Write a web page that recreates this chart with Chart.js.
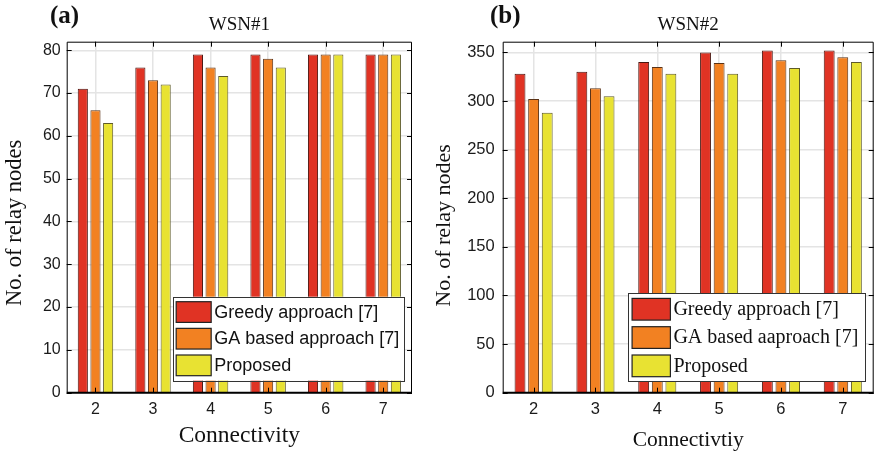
<!DOCTYPE html>
<html><head><meta charset="utf-8">
<script src="https://cdn.jsdelivr.net/npm/chart.js@4.4.1/dist/chart.umd.min.js"></script>
<style>
html,body{margin:0;padding:0;background:#fff;}
#wrap{position:relative;width:876px;height:456px;overflow:hidden;background:#fff;}
.c{position:absolute;top:0;height:456px;}
</style></head><body>
<div id="wrap">
<div class="c" style="left:0;width:436px"><canvas id="c1"></canvas></div>
<div class="c" style="left:430px;width:446px"><canvas id="c2"></canvas></div>
</div>
<script>
// ---- data ----
const categories = ['2','3','4','5','6','7'];
const seriesNames1 = ['Greedy approach [7]','GA based approach [7]','Proposed'];
const seriesNames2 = ['Greedy approach [7]','GA based aaproach [7]','Proposed'];
const wsn1Greedy   = [71,76,79,79,79,79];
const wsn1GA       = [66,73,76,78,79,79];
const wsn1Proposed = [63,72,74,76,79,79];
const wsn2Greedy   = [328,330,340,350,352,352];
const wsn2GA       = [302,313,335,339,342,345];
const wsn2Proposed = [288,305,328,328,334,340];
const wsn1YTicks = [0,10,20,30,40,50,60,70,80];
const wsn2YTicks = [0,50,100,150,200,250,300,350];

// ---- styles ----
const fills   = ['#e03324','#f28122','#e8e232'];
const borders = ['#4a1610','#5a3216','#5e5a28'];

const frameTicks = {
  id:'frameTicks',
  afterDatasetsDraw(chart){
    const {ctx, chartArea:ca, scales:{x,y}} = chart;
    ctx.save();
    ctx.strokeStyle = '#000';
    ctx.lineWidth = 1;
    ctx.beginPath();
    x.ticks.forEach((t,i)=>{
      const px = Math.round(x.getPixelForTick(i))+0.5;
      ctx.moveTo(px, ca.top); ctx.lineTo(px, ca.top+5);
      ctx.moveTo(px, ca.bottom); ctx.lineTo(px, ca.bottom-5);
    });
    y.ticks.forEach((t,i)=>{
      const py = Math.round(y.getPixelForTick(i))+0.5;
      ctx.moveTo(ca.left, py); ctx.lineTo(ca.left+5, py);
      ctx.moveTo(ca.right, py); ctx.lineTo(ca.right-5, py);
    });
    ctx.stroke();
    ctx.beginPath();
    ctx.moveTo(ca.left+0.5, ca.bottom); ctx.lineTo(ca.left+0.5, ca.top+0.5);
    ctx.lineTo(ca.right-0.5, ca.top+0.5); ctx.lineTo(ca.right-0.5, ca.bottom);
    ctx.stroke();
    ctx.lineWidth = 2;
    ctx.beginPath();
    ctx.moveTo(ca.left, ca.bottom); ctx.lineTo(ca.right, ca.bottom);
    ctx.stroke();
    ctx.restore();
  }
};

const insideLegend = {
  id:'insideLegend',
  afterDatasetsDraw(chart, args, o){
    const {ctx, chartArea:ca} = chart;
    const ds = chart.data.datasets;
    ctx.save();
    ctx.font = o.font;
    const maxW = Math.max(...ds.map(d=>ctx.measureText(d.label).width));
    const w = o.padX + o.swW + o.gap + maxW + o.padR;
    const h = o.padY*2 + ds.length*o.pitch - (o.pitch - o.swH);
    const bx = ca.right - o.right - w, by = ca.bottom - o.bottom - h;
    ctx.fillStyle = '#fff';
    ctx.fillRect(bx, by, w, h);
    ctx.strokeStyle = '#333';
    ctx.lineWidth = 1;
    ctx.strokeRect(Math.round(bx)+0.5, Math.round(by)+0.5, Math.round(w), Math.round(h));
    ds.forEach((d,i)=>{
      const sy = by + o.padY + i*o.pitch;
      const sx = bx + o.padX;
      ctx.fillStyle = d.backgroundColor;
      ctx.fillRect(sx, sy, o.swW, o.swH);
      ctx.strokeStyle = '#222';
      ctx.lineWidth = 1.2;
      ctx.strokeRect(sx, sy, o.swW, o.swH);
      ctx.fillStyle = '#111';
      ctx.textBaseline = 'middle';
      ctx.textAlign = 'left';
      ctx.fillText(d.label, sx + o.swW + o.gap, sy + o.swH/2 + 0.5);
    });
    ctx.restore();
  }
};

const panelLabel = {
  id:'panelLabel',
  afterDraw(chart, args, o){
    const ctx = chart.ctx;
    ctx.save();
    ctx.font = 'bold 25px "Liberation Serif"';
    ctx.fillStyle = '#111';
    ctx.textBaseline = 'middle';
    ctx.textAlign = 'left';
    ctx.fillText(o.text, o.x, o.y);
    ctx.restore();
  }
};

function makeChart(id, p){
  const datasets = p.series.map((vals,i)=>({
    label: p.names[i], data: vals,
    backgroundColor: fills[i], borderColor: borders[i], borderWidth: 1,
    categoryPercentage: 0.66, barPercentage: 0.8
  }));
  return new Chart(document.getElementById(id), {
    type:'bar',
    data:{labels: categories, datasets},
    options:{
      responsive:true, maintainAspectRatio:false, animation:false, devicePixelRatio:1,
      layout:{padding:{left:0,right:p.padRight,top:0,bottom:0}},
      plugins:{
        legend:{display:false}, tooltip:{enabled:false},
        title:{display:true, text:p.title, fullSize:false, color:'#111',
          font:{family:'Liberation Serif', size:19, weight:'normal'},
          padding:{top:14,bottom:4.9}},
        insideLegend:p.legend,
        panelLabel:p.label
      },
      scales:{
        x:{
          grid:{offset:false, color:'#e4e4e4', lineWidth:1.5, drawTicks:false},
          border:{display:false},
          ticks:{color:'#1a1a1a', font:{family:'Liberation Sans', size:p.tickSize}, padding:7},
          title:{display:true, text:p.xTitle, color:'#111',
            font:{family:'Liberation Serif', size:p.xTitleSize},
            padding:{top:0,bottom:p.xTitlePad}},
          afterFit(s){ s.height = 63.3; }
        },
        y:{
          min:0, max:p.yMax,
          afterBuildTicks(s){ s.ticks = p.yTicks.map(v=>({value:v})); },
          grid:{color:'#e4e4e4', lineWidth:1.5, drawTicks:false},
          border:{display:false},
          ticks:{color:'#1a1a1a', font:{family:'Liberation Sans', size:p.tickSize}, padding:p.yTickPad},
          title:{display:true, text:'No. of relay nodes' + p.yTitleTail, color:'#111',
            font:{family:'Liberation Serif', size:p.yTitleSize},
            padding:{top:p.yTitlePad,bottom:0}},
          afterFit(s){ s.width = p.yWidth; }
        }
      }
    },
    plugins:[frameTicks, insideLegend, panelLabel]
  });
}

makeChart('c1', {
  series:[wsn1Greedy, wsn1GA, wsn1Proposed], names:seriesNames1,
  title:'WSN#1', xTitle:'Connectivity', yMax:82, yTicks:wsn1YTicks,
  padRight:24, yWidth:66.7, tickSize:16, yTickPad:6,
  xTitleSize:23.5, xTitlePad:5.9, yTitleSize:22.5, yTitlePad:1.5, yTitleTail:'\u00A0\u00A0',
  legend:{font:'18px "Liberation Sans"', padX:3.3, swW:35, gap:3, padR:5, padY:5, pitch:26.65, swH:20.7, right:7.7, bottom:12},
  label:{text:'(a)', x:50, y:17}
});
makeChart('c2', {
  series:[wsn2Greedy, wsn2GA, wsn2Proposed], names:seriesNames2,
  title:'WSN#2', xTitle:'Connectivtiy', yMax:361, yTicks:wsn2YTicks,
  padRight:2.3, yWidth:72.7, tickSize:16.5, yTickPad:8,
  xTitleSize:21.5, xTitlePad:3.1, yTitleSize:22, yTitlePad:0.8, yTitleTail:'\u00A0\u00A0\u00A0',
  legend:{font:'20px "Liberation Serif"', padX:4, swW:38.3, gap:3, padR:6.7, padY:5, pitch:28.3, swH:21.7, right:8.7, bottom:11},
  label:{text:'(b)', x:60, y:17}
});
</script>
</body></html>
